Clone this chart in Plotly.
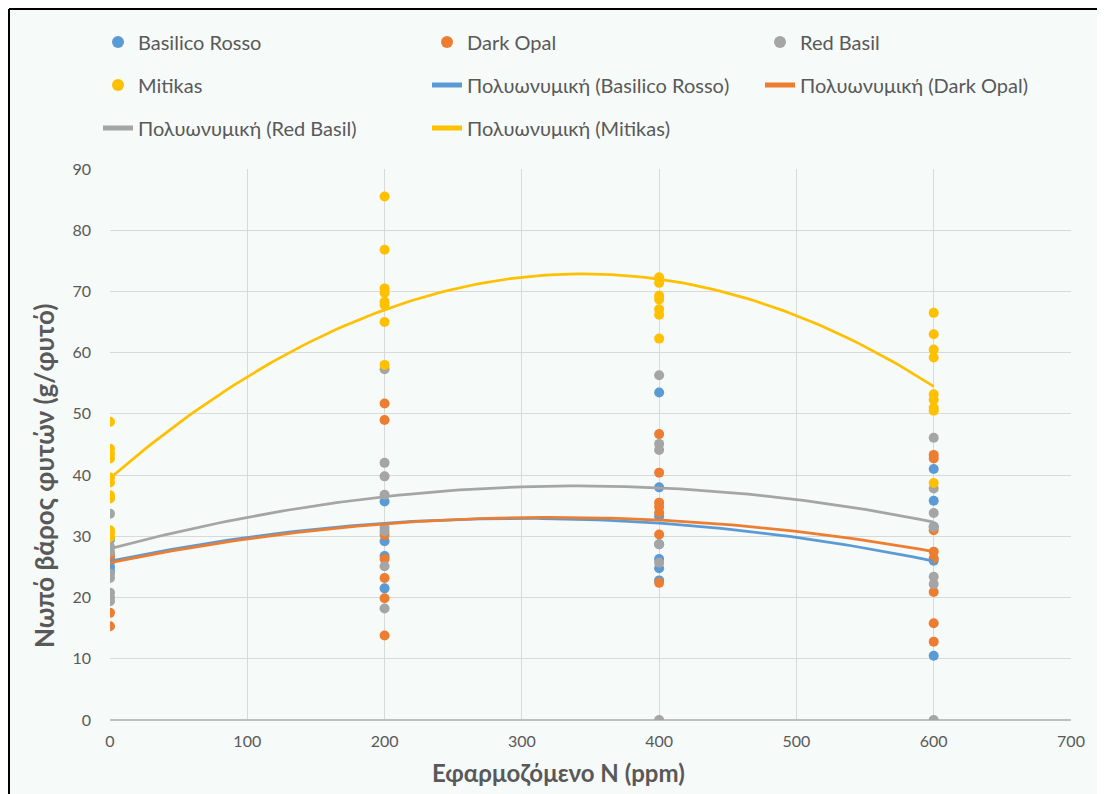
import numpy as np
import plotly.graph_objects as go

# ---------------- data ----------------
levels = [0, 200, 400, 600]

br_x = [0]*5 + [200]*4 + [400]*7 + [600]*5
br_y = [29.5, 26.5, 25.8, 25.0, 24.3,
        35.7, 29.2, 26.8, 21.5,
        53.5, 38.0, 33.3, 28.7, 26.3, 24.8, 22.8,
        41.0, 35.8, 31.6, 26.0, 10.5]

do_x = [0]*4 + [200]*7 + [400]*7 + [600]*8
do_y = [27.0, 26.2, 17.5, 15.3,
        51.7, 49.0, 30.2, 26.3, 23.2, 19.9, 13.8,
        46.7, 40.4, 35.5, 34.8, 33.9, 30.3, 22.4,
        43.3, 42.7, 31.0, 27.5, 26.4, 20.9, 15.8, 12.8]

rb_x = [0]*8 + [200]*8 + [400]*6 + [600]*7
rb_y = [33.7, 28.3, 27.5, 23.9, 23.2, 20.8, 20.0, 19.4,
        57.3, 42.0, 39.8, 36.8, 31.4, 30.8, 25.1, 18.2,
        56.3, 45.1, 44.1, 28.7, 25.7, 0.0,
        46.1, 37.8, 33.8, 31.5, 23.4, 22.2, 0.0]

mi_x = [0]*11 + [200]*8 + [400]*7 + [600]*9
mi_y = [48.7, 44.3, 43.5, 42.7, 39.6, 38.8, 36.7, 36.2, 31.0, 30.5, 29.8,
        85.5, 76.8, 70.5, 69.8, 68.3, 67.8, 65.0, 58.0,
        72.3, 71.4, 69.3, 68.7, 67.1, 66.2, 62.3,
        66.5, 63.0, 60.5, 59.2, 53.2, 52.3, 51.0, 50.5, 38.7]

# trend-line values read at the N levels (2nd-order polynomial trendlines)
br_trend = [26.0, 32.0, 32.3, 25.9]
do_trend = [25.7, 32.0, 32.7, 27.5]
rb_trend = [28.0, 36.4, 38.0, 32.3]
mi_trend = [39.5, 67.0, 72.0, 54.5]

names = ["Basilico Rosso", "Dark Opal", "Red Basil", "Mitikas"]
colors = ["#5B9BD5", "#ED7D31", "#A5A5A5", "#FFC000"]
trend_prefix = "Πολυωνυμική"

x_ticks = [0, 100, 200, 300, 400, 500, 600, 700]
y_ticks = [0, 10, 20, 30, 40, 50, 60, 70, 80, 90]

# ---------------- figure ----------------
OFF = 8                      # page body margin offset
W, H = 1105 - OFF, 794 - OFF
PL, PR, PT, PB = 110, 1071, 169, 720   # plot-area edges in page pixels
L, T = PL - OFF, PT - OFF
R, B = W - (PR - OFF), H - (PB - OFF)
PW, PH = PR - PL, PB - PT

def px2x(px):
    return (px - PL) / PW

def py2y(py):
    return (PB - py) / PH

FONT = "Lato, Carlito, Calibri, sans-serif"
TXT = "#595959"

# legend slot (text-left page x, row-centre page y) for each entry, Excel order
col_x = [138, 467, 800]
row_y = [42, 85, 128]
slots = [(col_x[i % 3], row_y[i // 3]) for i in range(8)]

fig = go.Figure()

series = [(br_x, br_y), (do_x, do_y), (rb_x, rb_y), (mi_x, mi_y)]
k = 0
for (xs, ys), nm, col in zip(series, names, colors):
    lg = "legend" if k == 0 else f"legend{k+1}"
    fig.add_trace(go.Scatter(x=xs, y=ys, mode="markers", name=nm,
                             marker=dict(color=col, size=10, line=dict(width=0)),
                             legend=lg, hoverinfo="x+y"))
    k += 1

trends = [br_trend, do_trend, rb_trend, mi_trend]
xx = np.linspace(0, 600, 121)
for tv, nm, col in zip(trends, names, colors):
    lg = f"legend{k+1}"
    coef = np.polyfit(levels, tv, 2)
    fig.add_trace(go.Scatter(x=xx, y=np.polyval(coef, xx), mode="lines",
                             name=f"{trend_prefix} ({nm})",
                             line=dict(color=col, width=2.75),
                             legend=lg, hoverinfo="skip"))
    k += 1

leg_common = dict(orientation="h",
                  font=dict(family=FONT, size=20, color=TXT),
                  bgcolor="rgba(0,0,0,0)", xanchor="left", yanchor="middle",
                  itemsizing="constant")

legends = {}
for i, (tx, ty) in enumerate(slots):
    key = "legend" if i == 0 else f"legend{i+1}"
    legends[key] = dict(x=px2x(tx - 40), y=py2y(ty), **leg_common)

fig.update_layout(
    width=W, height=H, autosize=False,
    margin=dict(l=L, r=R, t=T, b=B, autoexpand=False),
    paper_bgcolor="#f6faf8",
    plot_bgcolor="#f6faf8",
    font=dict(family=FONT, color=TXT),
    xaxis=dict(range=[0, 700], tickvals=x_ticks, showgrid=True,
               gridcolor="#d9d9d9", gridwidth=1, zeroline=False,
               showline=False, ticks="", ticklabelstandoff=10,
               tickfont=dict(family=FONT, size=16, color=TXT)),
    yaxis=dict(range=[0, 90], tickvals=y_ticks, showgrid=True,
               gridcolor="#d9d9d9", gridwidth=1, zeroline=True,
               zerolinecolor="#bfbfbf", zerolinewidth=1.5,
               showline=False, ticks="", ticklabelstandoff=18,
               tickfont=dict(family=FONT, size=16, color=TXT)),
    showlegend=True,
    **legends,
)

fig.add_annotation(text="<b>Εφαρμοζόμενο N (ppm)</b>", xref="paper", yref="paper",
                   x=px2x(558), y=py2y(772), showarrow=False,
                   font=dict(family=FONT, size=24, color=TXT),
                   xanchor="center", yanchor="middle")
fig.add_annotation(text="<b>Νωπό βάρος φυτών (g/φυτό)</b>", xref="paper", yref="paper",
                   x=px2x(44), y=py2y(476), showarrow=False, textangle=-90,
                   font=dict(family=FONT, size=26, color=TXT),
                   xanchor="center", yanchor="middle")

# black frame on top and left edges of the chart
fig.add_shape(type="line", xref="paper", yref="paper",
              x0=px2x(OFF + 1), x1=px2x(1110), y0=py2y(OFF + 1), y1=py2y(OFF + 1),
              line=dict(color="black", width=2))
fig.add_shape(type="line", xref="paper", yref="paper",
              x0=px2x(OFF + 1), x1=px2x(OFF + 1), y0=py2y(OFF + 1), y1=py2y(800),
              line=dict(color="black", width=2))

fig.write_html("out.html")
